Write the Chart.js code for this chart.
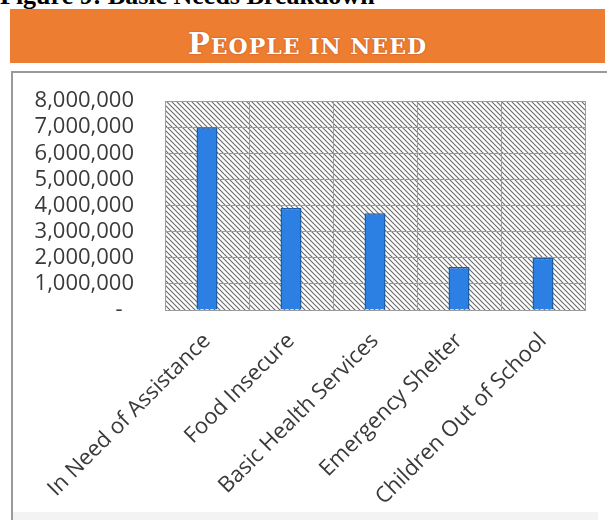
<!DOCTYPE html>
<html>
<head>
<meta charset="utf-8">
<script src="https://cdn.jsdelivr.net/npm/chart.js@4.4.1/dist/chart.umd.min.js"></script>
<style>
  html, body { margin: 0; padding: 0; background: #fff; }
  #page { position: relative; width: 607px; height: 520px; overflow: hidden; }
  #fig-title {
    position: absolute; left: 0; top: -17px;
    font: bold 26px/26px "Liberation Serif", serif; color: #000; white-space: nowrap;
  }
  #banner {
    position: absolute; left: 10px; top: 9px; width: 595px; height: 54px;
    background: #ED7D31;
  }
  #banner div {
    position: absolute; left: 0; right: 0; top: 21px; text-align: center;
    font: bold 22px/29px "DejaVu Serif", serif; letter-spacing: 1px;
    color: #fff; text-shadow: 0 0 2px rgba(140, 40, 40, .55); white-space: nowrap;
  }
  #banner .big { font-size: 29px; }
  #box {
    position: absolute; left: 11px; top: 71px; width: 596px; height: 449px;
    border-top: 2px solid #9a9a9a; border-left: 2px solid #9a9a9a; box-sizing: border-box;
  }
  #box-bottom { position: absolute; left: 13px; top: 512px; width: 585px; height: 8px; background: #f3f3f3; }
  #chart { position: absolute; left: 0; top: 0; }
</style>
</head>
<body>
<div id="page">
  <div id="fig-title">Figure 9: Basic Needs Breakdown</div>
  <div id="banner"><div><span class="big">P</span>EOPLE IN NEED</div></div>
  <div id="box"></div>
  <div id="box-bottom"></div>
  <canvas id="chart" width="607" height="520"></canvas>
</div>
<script>
// Data
const categories = ["In Need of Assistance", "Food Insecure", "Basic Health Services", "Emergency Shelter", "Children Out of School"];
const peopleInNeed = [7000000, 3900000, 3700000, 1650000, 2000000];
const yMax = 8000000;
const yStep = 1000000;

// hatched plot background
const hatchBg = {
  id: "hatchBg",
  beforeDraw(chart) {
    const { ctx, chartArea: a } = chart;
    const s = 5;
    const tile = document.createElement("canvas");
    tile.width = s; tile.height = s;
    const t = tile.getContext("2d");
    t.fillStyle = "#fff";
    t.fillRect(0, 0, s, s);
    t.strokeStyle = "#6a6a6a";
    t.lineWidth = 1.1;
    t.beginPath();
    for (const off of [-s, 0, s]) {
      t.moveTo(-1, -1 + off);
      t.lineTo(s + 1, s + 1 + off);
    }
    t.stroke();
    ctx.save();
    ctx.fillStyle = ctx.createPattern(tile, "repeat");
    ctx.fillRect(a.left, a.top, a.right - a.left, a.bottom - a.top);
    ctx.restore();
  }
};

new Chart(document.getElementById("chart").getContext("2d"), {
  type: "bar",
  data: {
    labels: categories,
    datasets: [{
      data: peopleInNeed,
      backgroundColor: "#2C7FE3",
      borderColor: "#1D5CA6",
      borderWidth: 1.5,
      barPercentage: 1,
      categoryPercentage: 0.25
    }]
  },
  options: {
    responsive: false,
    animation: false,
    layout: { padding: { top: 101, left: 0, right: 22, bottom: 0 } },
    plugins: { legend: { display: false }, tooltip: { enabled: false } },
    scales: {
      y: {
        min: 0,
        max: yMax,
        afterFit(scale) { scale.width = 165; },
        grid: { color: "#9b9b9b", lineWidth: 1, drawTicks: false },
        border: { display: true, color: "#9b9b9b", width: 1 },
        ticks: {
          stepSize: yStep,
          autoSkip: false,
          padding: 31,
          color: "#3a3a3a",
          font: { family: "Open Sans", size: 22 },
          callback: (v) => v === 0 ? "-  " : v.toLocaleString("en-US")
        }
      },
      x: {
        afterFit(scale) { scale.height = 210; },
        grid: { color: "#9b9b9b", lineWidth: 1, drawTicks: false, offset: true },
        border: { display: true, color: "#9b9b9b", width: 1 },
        ticks: {
          autoSkip: false,
          minRotation: 45,
          maxRotation: 45,
          padding: 18,
          color: "#3a3a3a",
          font: { family: "Open Sans", size: 22 }
        }
      }
    }
  },
  plugins: [hatchBg]
});
</script>
</body>
</html>
